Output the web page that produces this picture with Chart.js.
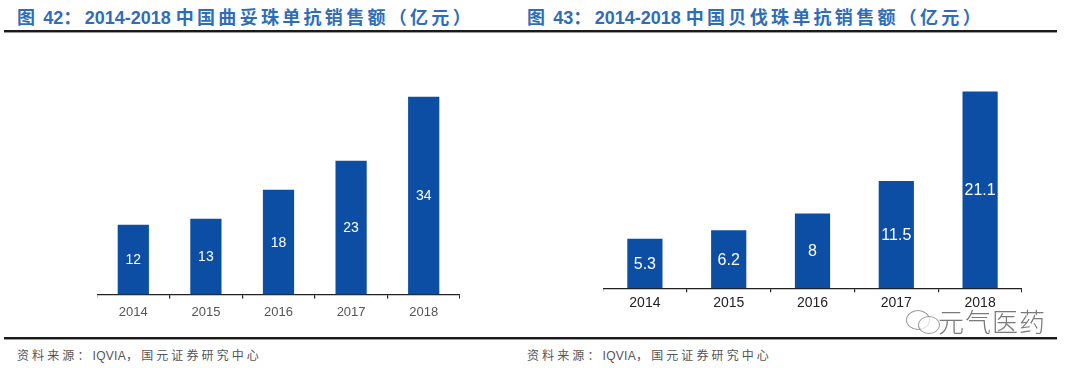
<!DOCTYPE html>
<html>
<head>
<meta charset="utf-8">
<script src="https://cdn.jsdelivr.net/npm/chart.js@4.4.0/dist/chart.umd.min.js"></script>
<style>
  body { margin: 0; background: #fff; width: 1080px; height: 368px; position: relative; overflow: hidden;
         font-family: "Liberation Sans", Arial, "Noto Sans CJK SC", sans-serif; }
  .title { position: absolute; top: 3px; font-size: 18px; font-weight: bold; color: #2f6db8; white-space: nowrap; }
  .title .cj { letter-spacing: 3.3px; }
  .rule { position: absolute; left: 4px; width: 1053px; height: 2px; background: #1a1a1a; border-bottom: 1px solid #9a9a9a; }
  .src { position: absolute; top: 346px; font-size: 12px; color: #555; letter-spacing: 3.1px; white-space: nowrap; }
  .src .en { letter-spacing: 0.3px; }
  .box { position: absolute; }
  .wm { position: absolute; left: 938px; top: 302px; font-size: 26px; font-weight: 300; color: #7a7a7a;
        font-family: "Noto Sans CJK SC", sans-serif; letter-spacing: 1px; text-shadow: 0 0 3px #fff; }
  .bub { position: absolute; border: 1.5px solid #999; border-radius: 50%; background: rgba(255,255,255,0.7); }
</style>
</head>
<body>
<div class="title" style="left:17px"><span class="cj">图</span> 42<span class="cj">：</span>2014-2018 <span class="cj">中国曲妥珠单抗销售额（亿元）</span></div>
<div class="title" style="left:527px"><span class="cj">图</span> 43<span class="cj">：</span>2014-2018 <span class="cj">中国贝伐珠单抗销售额（亿元）</span></div>
<div class="rule" style="top:30px"></div>
<div class="rule" style="top:337px"></div>

<div class="box" style="left:97px; top:40px; width:363px; height:286px"><canvas id="c1"></canvas></div>
<div class="box" style="left:603px; top:40px; width:419px; height:275px"><canvas id="c2"></canvas></div>

<div class="bub" style="left:906px; top:310px; width:22px; height:18px"></div>
<div class="bub" style="left:918px; top:316px; width:20px; height:16px"></div>
<div class="wm">元气医药</div>

<div class="src" style="left:17px">资料来源：<span class="en">IQVIA</span>，国元证券研究中心</div>
<div class="src" style="left:527px">资料来源：<span class="en">IQVIA</span>，国元证券研究中心</div>

<script>
const years = ['2014', '2015', '2016', '2017', '2018'];
const trastuzumab = [12, 13, 18, 23, 34];
const bevacizumab = [5.3, 6.2, 8, 11.5, 21.1];

const barColor = '#0c4ea3';

// white value labels in the middle of each bar
const innerLabels = {
  id: 'innerLabels',
  afterDatasetsDraw(chart, args, opts) {
    const ctx = chart.ctx;
    const meta = chart.getDatasetMeta(0);
    const values = chart.data.datasets[0].data;
    ctx.save();
    ctx.fillStyle = '#fff';
    ctx.font = opts.size + 'px "Liberation Sans", Arial, sans-serif';
    ctx.textAlign = 'center';
    ctx.textBaseline = 'middle';
    meta.data.forEach((bar, i) => {
      ctx.fillText(String(values[i]), bar.x, (bar.y + bar.base) / 2 + 1);
    });
    ctx.restore();
  }
};

function makeChart(id, data, yMax, padTop, barPct, labelSize, tickColor, tickSize, tickPad) {
  new Chart(document.getElementById(id), {
    type: 'bar',
    data: {
      labels: years,
      datasets: [{
        data: data,
        backgroundColor: barColor,
        barPercentage: barPct,
        categoryPercentage: 1
      }]
    },
    options: {
      responsive: true,
      maintainAspectRatio: false,
      animation: false,
      layout: { padding: { top: padTop, left: 0, right: 0, bottom: 0 } },
      plugins: {
        legend: { display: false },
        tooltip: { enabled: false },
        innerLabels: { size: labelSize }
      },
      scales: {
        x: {
          grid: { display: true, drawOnChartArea: false, offset: true, color: '#222', tickLength: 4, lineWidth: 1.2 },
          border: { display: true, color: '#222', width: 1.2 },
          ticks: { color: tickColor, padding: tickPad, font: { size: tickSize, family: '"Liberation Sans", Arial, sans-serif' } }
        },
        y: { display: false, min: 0, max: yMax }
      }
    },
    plugins: [innerLabels]
  });
}

makeChart('c1', trastuzumab, 40, 22, 0.43, 14, '#555', 13, 6);
makeChart('c2', bevacizumab, 25, 15, 0.42, 16, '#222', 14, 3);
</script>
</body>
</html>
